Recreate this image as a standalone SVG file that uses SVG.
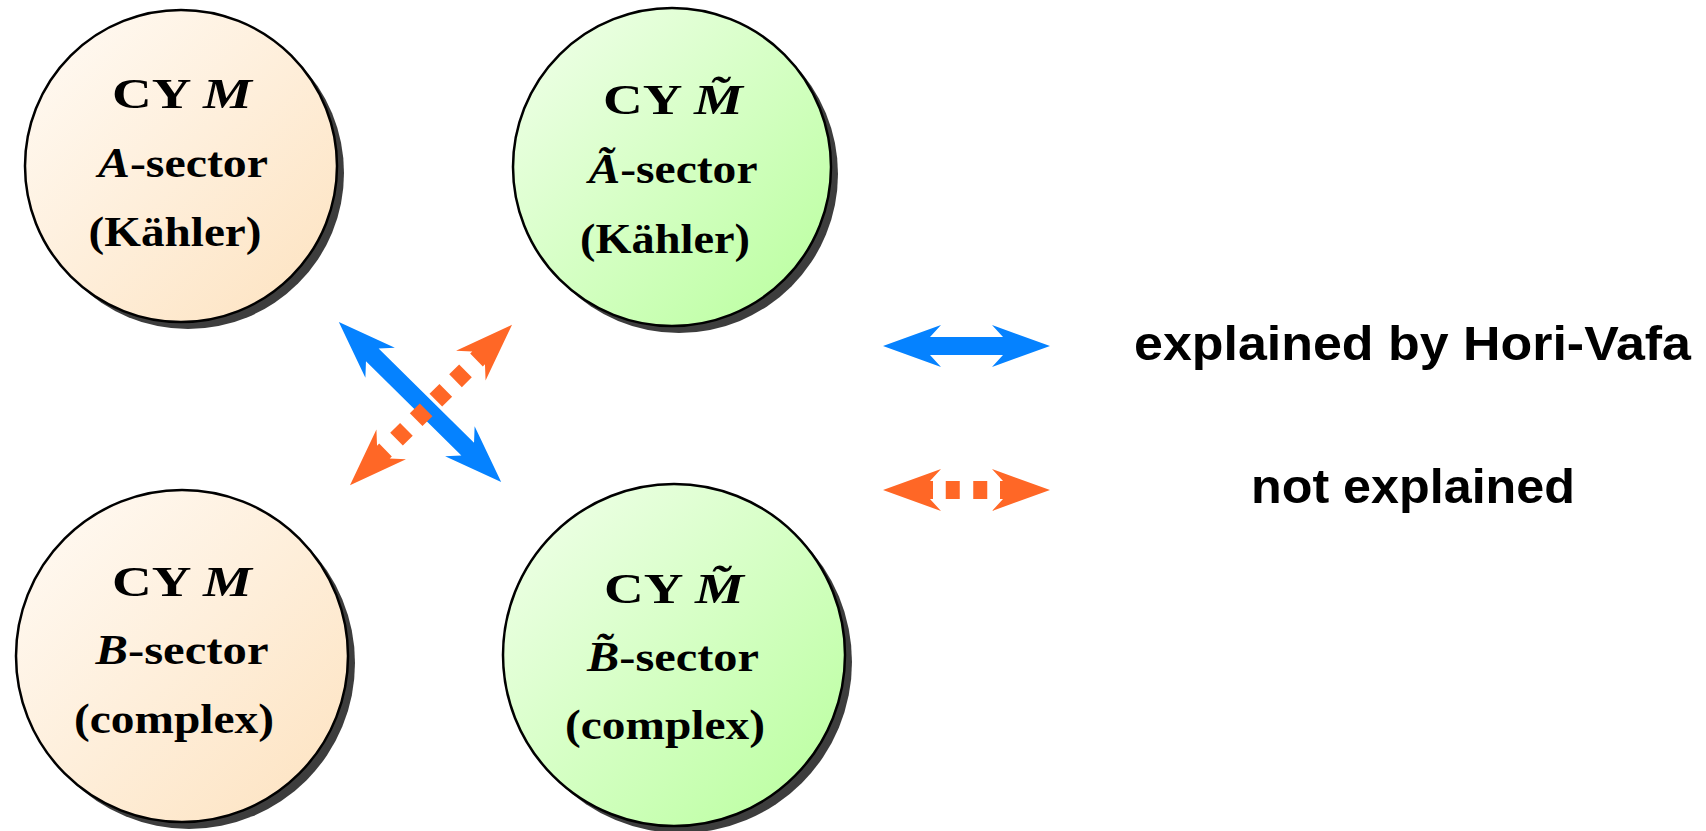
<svg xmlns="http://www.w3.org/2000/svg" width="1706" height="831" viewBox="0 0 1706 831">
  <defs>
    <linearGradient id="peach" x1="0" y1="0" x2="1" y2="1">
      <stop offset="0" stop-color="#fffbf6"/>
      <stop offset="1" stop-color="#fde2bf"/>
    </linearGradient>
    <linearGradient id="green" x1="0" y1="0" x2="1" y2="1">
      <stop offset="0" stop-color="#f2ffec"/>
      <stop offset="1" stop-color="#b8ff9c"/>
    </linearGradient>
  </defs>
  <style>
    .shadow { fill: #3d3d3d; }
    .circ { stroke: #000; stroke-width: 2.5; }
    .peach { fill: url(#peach); }
    .green { fill: url(#green); }
    .lbl { font-family: "Liberation Serif", "Times New Roman", serif; font-weight: bold; font-size: 43px; text-anchor: middle; fill: #000; }
    .it { font-style: italic; }
    .leg { font-family: "Liberation Sans", Arial, sans-serif; font-weight: bold; font-size: 49px; fill: #000; }
    .blue { fill: #0582ff; }
    .orange { fill: #ff6726; }
    .dash { stroke: #ff6726; stroke-width: 18; fill: none; }
  </style>

  <g id="node-tl">
    <circle class="shadow" cx="188" cy="173" r="156"/>
    <circle class="circ peach" cx="181" cy="166" r="156"/>
    <text class="lbl" x="182" y="108" textLength="140" lengthAdjust="spacingAndGlyphs">CY <tspan class="it">M</tspan></text>
    <text class="lbl" x="183" y="177" textLength="170" lengthAdjust="spacingAndGlyphs"><tspan class="it">A</tspan>-sector</text>
    <text class="lbl" x="175" y="246" textLength="173" lengthAdjust="spacingAndGlyphs">(Kähler)</text>
  </g>

  <g id="node-tr">
    <circle class="shadow" cx="679" cy="174" r="159"/>
    <circle class="circ green" cx="672" cy="167" r="159"/>
    <text class="lbl" x="673" y="114" textLength="140" lengthAdjust="spacingAndGlyphs">CY <tspan class="it">M̃</tspan></text>
    <text class="lbl" x="673" y="183" textLength="169" lengthAdjust="spacingAndGlyphs"><tspan class="it">Ã</tspan>-sector</text>
    <text class="lbl" x="665" y="253" textLength="170" lengthAdjust="spacingAndGlyphs">(Kähler)</text>
  </g>

  <g id="node-bl">
    <circle class="shadow" cx="189" cy="663" r="166"/>
    <circle class="circ peach" cx="182" cy="656" r="166"/>
    <text class="lbl" x="182" y="596" textLength="140" lengthAdjust="spacingAndGlyphs">CY <tspan class="it">M</tspan></text>
    <text class="lbl" x="182" y="664" textLength="173" lengthAdjust="spacingAndGlyphs"><tspan class="it">B</tspan>-sector</text>
    <text class="lbl" x="174" y="733" textLength="200" lengthAdjust="spacingAndGlyphs">(complex)</text>
  </g>

  <g id="node-br">
    <circle class="shadow" cx="681" cy="662" r="171"/>
    <circle class="circ green" cx="674" cy="655" r="171"/>
    <text class="lbl" x="674" y="603" textLength="140" lengthAdjust="spacingAndGlyphs">CY <tspan class="it">M̃</tspan></text>
    <text class="lbl" x="673" y="671" textLength="172" lengthAdjust="spacingAndGlyphs"><tspan class="it">B̃</tspan>-sector</text>
    <text class="lbl" x="665" y="739" textLength="200" lengthAdjust="spacingAndGlyphs">(complex)</text>
  </g>

  <g id="connectors">
    <g transform="translate(420,402) rotate(44.6)">
      <polygon class="blue" points="-114,0 -56,-21 -67,-9 67,-9 56,-21 114,0 56,21 67,9 -67,9 -56,21"/>
    </g>
    <g transform="translate(431,405) rotate(135.3)">
      <polygon class="orange" points="-114,0 -56,-21 -67,-9 -64,-9 -64,9 -67,9 -56,21"/>
      <polygon class="orange" points="114,0 56,-21 67,-9 64,-9 64,9 67,9 56,21"/>
      <line class="dash" x1="-48.5" y1="0" x2="48.5" y2="0" stroke-dasharray="14 13.7"/>
    </g>
  </g>

  <g id="legend">
    <g id="legend-blue" transform="translate(966.5,346)">
      <polygon class="blue" points="-83.5,0 -25.5,-21 -36.5,-9 36.5,-9 25.5,-21 83.5,0 25.5,21 36.5,9 -36.5,9 -25.5,21"/>
    </g>
    <text class="leg" x="1134" y="360" textLength="557" lengthAdjust="spacingAndGlyphs">explained by Hori-Vafa</text>
    <g id="legend-orange" transform="translate(966.5,490)">
      <polygon class="orange" points="-83.5,0 -25.5,-21 -36.5,-9 -33.5,-9 -33.5,9 -36.5,9 -25.5,21"/>
      <polygon class="orange" points="83.5,0 25.5,-21 36.5,-9 33.5,-9 33.5,9 36.5,9 25.5,21"/>
      <line class="dash" x1="-20.75" y1="0" x2="20.75" y2="0" stroke-dasharray="14 13.5"/>
    </g>
    <text class="leg" x="1251" y="503" textLength="324" lengthAdjust="spacingAndGlyphs">not explained</text>
  </g>
</svg>
